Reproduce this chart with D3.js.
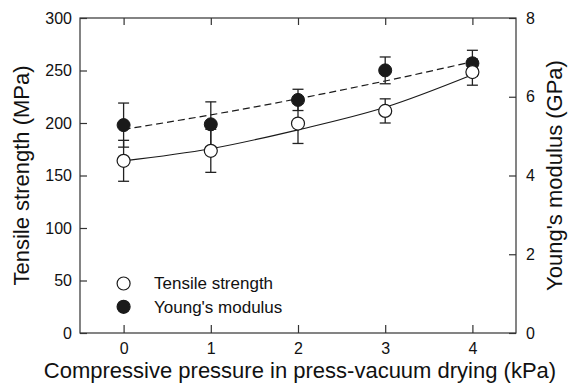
<!DOCTYPE html>
<html>
<head>
<meta charset="utf-8">
<script src="https://cdn.jsdelivr.net/npm/d3@7"></script>
<style>
  html, body { margin: 0; padding: 0; background: #fff; }
  svg { display: block; font-family: Arial, "Liberation Sans", Helvetica, sans-serif; }
</style>
</head>
<body>
<svg id="chart" width="568" height="383"></svg>
<script>
// ---- data ----
const pressure = [0, 1, 2, 3, 4];                       // kPa
const tensile = [164, 173.5, 199.5, 211.5, 248.5];      // MPa
const tensileErr = [19.5, 20.5, 19, 11.5, 12.5];        // MPa
const young = [5.28, 5.30, 5.92, 6.67, 6.85];           // GPa
const youngErr = [0.56, 0.57, 0.27, 0.34, 0.33];        // GPa
const tensileFit = [164, 175.5, 193.5, 215, 246];       // MPa, solid curve
const youngFit = [5.17, 5.54, 5.95, 6.40, 6.89];        // GPa, dashed curve
const xTicks = [0, 1, 2, 3, 4];
const yLeftTicks = [0, 50, 100, 150, 200, 250, 300];
const yRightTicks = [0, 2, 4, 6, 8];
const legendLabels = ["Tensile strength", "Young's modulus"];
const xTitle = "Compressive pressure in press-vacuum drying (kPa)";
const yLeftTitle = "Tensile strength (MPa)";
const yRightTitle = "Young's modulus (GPa)";

// ---- layout ----
const L = 80, R = 516, T = 18, B = 333;
const axisColor = "#333";
const ink = "#1a1a1a";

const svg = d3.select("#chart");
const x = d3.scaleLinear().domain([-0.5, 4.5]).range([L, R]);
const yL = d3.scaleLinear().domain([0, 300]).range([B, T]);
const yR = d3.scaleLinear().domain([0, 8]).range([B, T]);

// frame
svg.append("rect").attr("x", L).attr("y", T).attr("width", R - L).attr("height", B - T)
  .attr("fill", "none").attr("stroke", axisColor).attr("stroke-width", 1.2);

function styleAxis(g, fs) {
  g.select(".domain").remove();
  g.selectAll(".tick line").attr("stroke", axisColor).attr("stroke-width", 1.2);
  g.selectAll(".tick text").attr("fill", "#111").style("font-size", fs + "px");
}

svg.append("g").attr("transform", `translate(0,${B})`)
  .call(d3.axisBottom(x).tickValues(xTicks).tickFormat(d3.format("d")).tickSizeInner(-8).tickSizeOuter(0).tickPadding(10))
  .call(g => styleAxis(g, 16));
svg.append("g").attr("transform", `translate(0,${T})`)
  .call(d3.axisTop(x).tickValues(xTicks).tickFormat("").tickSizeInner(-7).tickSizeOuter(0))
  .call(g => styleAxis(g, 16));
svg.append("g").attr("transform", `translate(${L},0)`)
  .call(d3.axisLeft(yL).tickValues(yLeftTicks).tickFormat(d3.format("d")).tickSizeInner(-7).tickSizeOuter(0).tickPadding(8))
  .call(g => styleAxis(g, 16));
svg.append("g").attr("transform", `translate(${R},0)`)
  .call(d3.axisRight(yR).tickValues(yRightTicks).tickFormat(d3.format("d")).tickSizeInner(-7).tickSizeOuter(0).tickPadding(10))
  .call(g => styleAxis(g, 16));

// titles
svg.append("text").attr("x", 300).attr("y", 378).attr("text-anchor", "middle")
  .style("font-size", "22px").attr("fill", "#111").text(xTitle);
svg.append("text").attr("transform", `translate(29,${(T + B) / 2}) rotate(-90)`).attr("text-anchor", "middle")
  .style("font-size", "22px").attr("fill", "#111").text(yLeftTitle);
svg.append("text").attr("transform", `translate(562,${(T + B) / 2}) rotate(-90)`).attr("text-anchor", "middle")
  .style("font-size", "22px").attr("fill", "#111").text(yRightTitle);

// fit curves
const lineL = d3.line().x((d, i) => x(pressure[i])).y(d => yL(d)).curve(d3.curveMonotoneX);
const lineR = d3.line().x((d, i) => x(pressure[i])).y(d => yR(d)).curve(d3.curveMonotoneX);
svg.append("path").attr("d", lineL(tensileFit)).attr("fill", "none").attr("stroke", ink).attr("stroke-width", 1.2);
svg.append("path").attr("d", lineR(youngFit)).attr("fill", "none").attr("stroke", ink).attr("stroke-width", 1.2)
  .attr("stroke-dasharray", "7,4");

// error bars
function errorBars(vals, errs, scale) {
  const g = svg.append("g").attr("stroke", "#222").attr("stroke-width", 1.3);
  vals.forEach((v, i) => {
    const cx = x(pressure[i]), y1 = scale(v + errs[i]), y2 = scale(v - errs[i]);
    g.append("line").attr("x1", cx).attr("x2", cx).attr("y1", y1).attr("y2", y2);
    g.append("line").attr("x1", cx - 5.5).attr("x2", cx + 5.5).attr("y1", y1).attr("y2", y1);
    g.append("line").attr("x1", cx - 5.5).attr("x2", cx + 5.5).attr("y1", y2).attr("y2", y2);
  });
}
errorBars(young, youngErr, yR);
errorBars(tensile, tensileErr, yL);

// markers
svg.append("g").selectAll("circle").data(young).join("circle")
  .attr("cx", (d, i) => x(pressure[i])).attr("cy", d => yR(d)).attr("r", 6.5)
  .attr("fill", ink).attr("stroke", ink).attr("stroke-width", 1);
svg.append("g").selectAll("circle").data(tensile).join("circle")
  .attr("cx", (d, i) => x(pressure[i])).attr("cy", d => yL(d)).attr("r", 6.5)
  .attr("fill", "#fff").attr("stroke", ink).attr("stroke-width", 1.2);

// legend
const leg = svg.append("g");
legendLabels.forEach((lab, i) => {
  const ly = 283.5 + i * 23.3;
  leg.append("circle").attr("cx", x(0)).attr("cy", ly).attr("r", 6.5)
    .attr("fill", i === 0 ? "#fff" : ink).attr("stroke", ink).attr("stroke-width", 1.2);
  leg.append("text").attr("x", 154).attr("y", ly).attr("dy", "0.35em")
    .style("font-size", "17px").attr("fill", "#111").text(lab);
});
</script>
</body>
</html>
